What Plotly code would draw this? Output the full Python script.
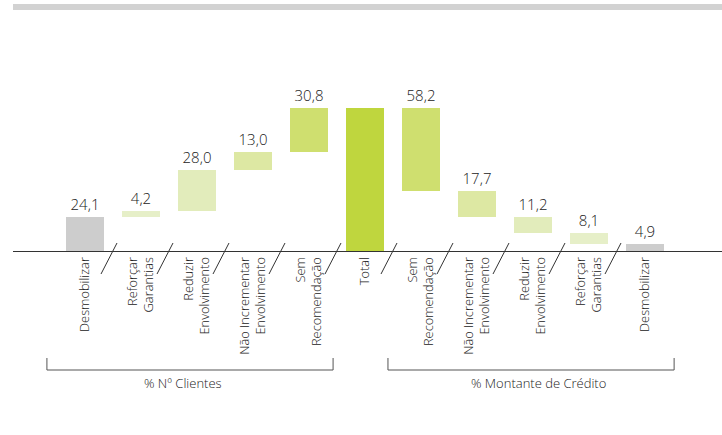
import plotly.graph_objects as go

# Share of clients / credit amount by recommendation
clientes_labels = ["Desmobilizar", "Reforçar<br>Garantias", "Reduzir<br>Envolvimento",
                   "Não Incrementar<br>Envolvimento", "Sem<br>Recomendação"]
clientes_values = [24.1, 4.2, 28.0, 13.0, 30.8]

total_label = "Total"
total_value = 100.0

montante_labels = ["Sem<br>Recomendação", "Não Incrementar<br>Envolvimento",
                   "Reduzir<br>Envolvimento", "Reforçar<br>Garantias", "Desmobilizar"]
montante_values = [58.2, 17.7, 11.2, 8.1, 4.9]

group_titles = ["% Nº Clientes", "% Montante de Crédito"]

colour_by_label = {
    "Desmobilizar": "#cdcdcd",
    "Reforçar<br>Garantias": "#e6efc8",
    "Reduzir<br>Envolvimento": "#e2ecbb",
    "Não Incrementar<br>Envolvimento": "#dde8a3",
    "Sem<br>Recomendação": "#cfdf6f",
    "Total": "#bfd63e",
}

# Floating bases: left side stacks upward from zero, right side steps down from the total.
labels, values, bases, texts = [], [], [], []
running = 0.0
for lab, v in zip(clientes_labels, clientes_values):
    labels.append(lab)
    values.append(v)
    bases.append(0.0 if lab == "Desmobilizar" else running)
    texts.append(f"{v:.1f}".replace(".", ","))
    running += v

labels.append(total_label)
values.append(total_value)
bases.append(0.0)
texts.append("")

running = total_value
for lab, v in zip(montante_labels, montante_values):
    running -= v
    labels.append(lab)
    values.append(v)
    bases.append(0.0 if lab == "Desmobilizar" else running)
    texts.append(f"{v:.1f}".replace(".", ","))

xs = list(range(len(labels)))
colours = [colour_by_label[l] for l in labels]

FONT = "Open Sans, Noto Sans, sans-serif"
TXT = "#222222"

fig = go.Figure(go.Bar(
    x=xs, y=values, base=bases,
    marker=dict(color=colours, line=dict(width=0)),
    width=0.68,
    text=texts, textposition="outside", cliponaxis=False,
    textfont=dict(family=FONT, size=15, color=TXT, weight=300),
    hoverinfo="skip",
))

W, H = 722, 435
m_l, m_r, m_t, m_b = 13, 0, 37, 184
plot_h = H - m_t - m_b
slot_px = 56.0
first_center_px = 85.0
x_lo = (m_l - first_center_px) / slot_px
x_hi = (W - m_r - first_center_px) / slot_px

def py(px_below_axis):
    """Convert a pixel offset below the axis line into paper y."""
    return -px_below_axis / plot_h

shapes = []
# Top rule
shapes.append(dict(type="rect", xref="paper", yref="paper", x0=0, x1=1,
                   y0=1 + (m_t - 10) / plot_h, y1=1 + (m_t - 4) / plot_h,
                   fillcolor="#d2d2d2", line=dict(width=0), layer="below"))

# Slash separators between neighbouring categories (not next to the group ends)
n_left = len(clientes_labels)
boundaries = [i + 0.5 for i in range(n_left)] + [n_left + 0.5 + i for i in range(len(montante_labels))]
for b in boundaries:
    shapes.append(dict(type="line", xref="x", yref="paper",
                       x0=b + 4 / slot_px, y0=py(-8),
                       x1=b - 12 / slot_px, y1=py(23),
                       line=dict(color="#333333", width=1)))

# Group brackets under the labels
groups = [(0 - 0.68, n_left - 1 + 0.43, -7),
          (n_left + 1 - 0.59, len(labels) - 1 + 0.52, 7)]
annotations = []
for (g0, g1, shift), title in zip(groups, group_titles):
    shapes.append(dict(type="path", xref="x", yref="paper",
                       path=f"M {g0},{py(107)} L {g0},{py(119)} L {g1},{py(119)} L {g1},{py(107)}",
                       line=dict(color="#555555", width=1)))
    annotations.append(dict(x=(g0 + g1) / 2, y=py(132), xref="x", yref="paper",
                            text=title, showarrow=False, xshift=shift,
                            xanchor="center", yanchor="middle",
                            font=dict(family=FONT, size=13, color=TXT, weight=300)))

fig.update_layout(
    width=W, height=H,
    margin=dict(l=m_l, r=m_r, t=m_t, b=m_b),
    paper_bgcolor="white", plot_bgcolor="white",
    showlegend=False,
    separators=", ",
    font=dict(family=FONT, color=TXT),
    xaxis=dict(range=[x_lo, x_hi], tickmode="array", tickvals=xs, ticktext=labels,
               tickangle=-90, ticks="", showgrid=False, zeroline=False,
               showline=True, linecolor="#333333", linewidth=1,
               tickfont=dict(family=FONT, size=12.8, color=TXT, weight=300),
               fixedrange=True),
    yaxis=dict(range=[0, plot_h / 1.43], showgrid=False, zeroline=False,
               showticklabels=False, showline=False, fixedrange=True),
    shapes=shapes, annotations=annotations,
    bargap=0,
)

fig.write_html("out.html")
